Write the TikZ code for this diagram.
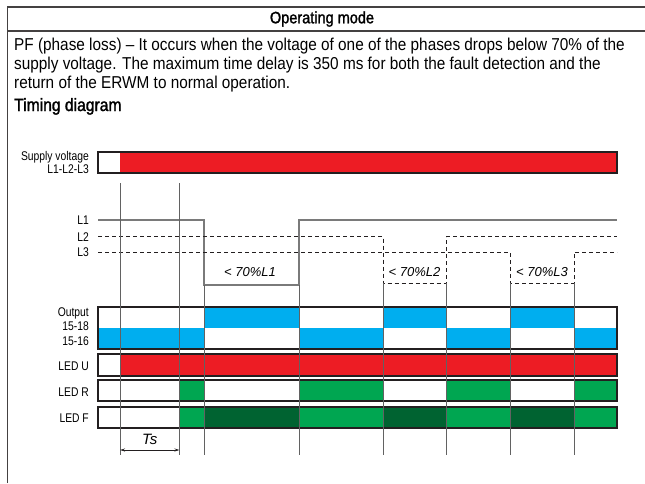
\documentclass[tikz,border=0pt]{standalone}
\usepackage{fontspec}
\setmainfont{Liberation Sans}[FakeStretch=0.892]
\newfontfamily\lblfont{Liberation Sans}[FakeStretch=0.82]
\newfontfamily\hdfont{Liberation Sans}[FakeStretch=0.88, FakeBold=1.6]
\newfontfamily\nrmfont{Liberation Sans}
\usetikzlibrary{arrows.meta}
\definecolor{cred}{HTML}{ED1C24}
\definecolor{cblue}{HTML}{00AEEF}
\definecolor{cgreen}{HTML}{00A651}
\definecolor{cdark}{HTML}{006331}
\definecolor{cline}{HTML}{231F20}
\definecolor{cgray}{HTML}{7A7A7A}
\tikzset{
  frame/.style={draw=cline!85, line width=1.2pt},
  box/.style={draw=cline, line width=1.2pt},
  sig/.style={draw=cgray, line width=1.3pt},
  dsig/.style={draw=cline, line width=0.9pt, dash pattern=on 4pt off 3pt},
  vline/.style={draw=cgray!80!black, line width=1pt},
  body/.style={font=\fontsize{17.2}{19}\selectfont, inner sep=0pt, anchor=base west},
  hd/.style={font=\hdfont\fontsize{16.5}{19}\selectfont, inner sep=0pt},
  lbl/.style={font=\lblfont\fontsize{12.6}{14}\selectfont, inner sep=0pt, anchor=base east},
  pct/.style={font=\nrmfont\itshape\fontsize{13}{14}\selectfont, inner sep=0pt},
}
\begin{document}
\begin{tikzpicture}[x=1pt,y=-1pt]
\useasboundingbox (0,0) rectangle (645,483);
% frame
\draw[frame] (7.5,483) -- (7.5,7) -- (645,7);
\draw[frame] (7.5,31) -- (645,31);
% texts
\node[hd] (hdr) at (322,19) {Operating mode};
\node[body] (p1) at (14,50) {PF (phase loss) -- It occurs when the voltage of one of the phases drops below 70\% of the};
\node[body] (p2) at (14,69) {supply voltage. The maximum time delay is 350 ms for both the fault detection and the};
\node[body] (p3) at (14,88) {return of the ERWM to normal operation.};
\node[hd, anchor=base west, font=\hdfont\fontsize{17.8}{19}\selectfont] (td) at (14,111) {Timing diagram};
% left labels
\node[lbl] (lsv) at (89,160) {Supply voltage};
\node[lbl] (lsl) at (89,173) {L1-L2-L3};
\node[lbl] (ll1) at (89,224.5) {L1};
\node[lbl] (ll2) at (89,241) {L2};
\node[lbl] (ll3) at (89,256.5) {L3};
\node[lbl] (lout) at (89,316) {Output};
\node[lbl] (l1518) at (89,330) {15-18};
\node[lbl] (l1516) at (89,345) {15-16};
\node[lbl] (lledu) at (89,370) {LED U};
\node[lbl] (lledr) at (89,396) {LED R};
\node[lbl] (lledf) at (89,422) {LED F};
% supply bar
\fill[cred] (120,152) rectangle (617,173);
\draw[box] (98,152) rectangle (617,173);
% output
\fill[cblue] (204,307) rectangle (299,328);
\fill[cblue] (383,307) rectangle (446,328);
\fill[cblue] (510,307) rectangle (574,328);
\fill[cblue] (98,328) rectangle (204,349);
\fill[cblue] (299,328) rectangle (383,349);
\fill[cblue] (446,328) rectangle (510,349);
\fill[cblue] (574,328) rectangle (617,349);
\draw[box] (98,307) rectangle (617,349);
% LED U
\fill[cred] (120,354) rectangle (617,376);
\draw[box] (98,354) rectangle (617,376);
% LED R
\fill[cgreen] (179.5,380) rectangle (204,401);
\fill[cgreen] (299,380) rectangle (383,401);
\fill[cgreen] (446,380) rectangle (510,401);
\fill[cgreen] (574,380) rectangle (617,401);
\draw[box] (98,380) rectangle (617,401);
% LED F
\fill[cgreen] (179.5,407) rectangle (204,428);
\fill[cdark] (204,407) rectangle (299,428);
\fill[cgreen] (299,407) rectangle (383,428);
\fill[cdark] (383,407) rectangle (446,428);
\fill[cgreen] (446,407) rectangle (510,428);
\fill[cdark] (510,407) rectangle (574,428);
\fill[cgreen] (574,407) rectangle (617,428);
\draw[box] (98,407) rectangle (617,428);
% signals
\draw[sig] (98,220) -- (204,220) -- (204,285) -- (299,285) -- (299,220) -- (617,220);
\draw[dsig] (98,236.5) -- (383,236.5) -- (383,283) -- (446,283) -- (446,236.5) -- (617,236.5);
\draw[dsig] (98,252) -- (510,252) -- (510,283) -- (574,283) -- (574,252) -- (617,252);
% vertical lines
\draw[vline] (120,183) -- (120,455);
\draw[vline] (179.5,183) -- (179.5,455);
\draw[vline] (204,285) -- (204,455);
\draw[vline] (299,285) -- (299,455);
\draw[vline] (383,283) -- (383,455);
\draw[vline] (446,283) -- (446,455);
\draw[vline] (510,283) -- (510,455);
\draw[vline] (574,283) -- (574,455);
% fault labels
\node[pct] (f1) at (250,272) {< 70\%L1};
\node[pct] (f2) at (414.5,272) {< 70\%L2};
\node[pct] (f3) at (542,272) {< 70\%L3};
% Ts
\coordinate (tsa) at (120,450);
\coordinate (tsb) at (179.5,450);
\draw[cline, line width=0.9pt, {Stealth[length=5pt,width=3pt]}-{Stealth[length=5pt,width=3pt]}] (tsa) -- (tsb);
\node[pct, font=\nrmfont\itshape\fontsize{15}{16}\selectfont] (ts) at (149.75,439) {Ts};
\end{tikzpicture}
\end{document}
